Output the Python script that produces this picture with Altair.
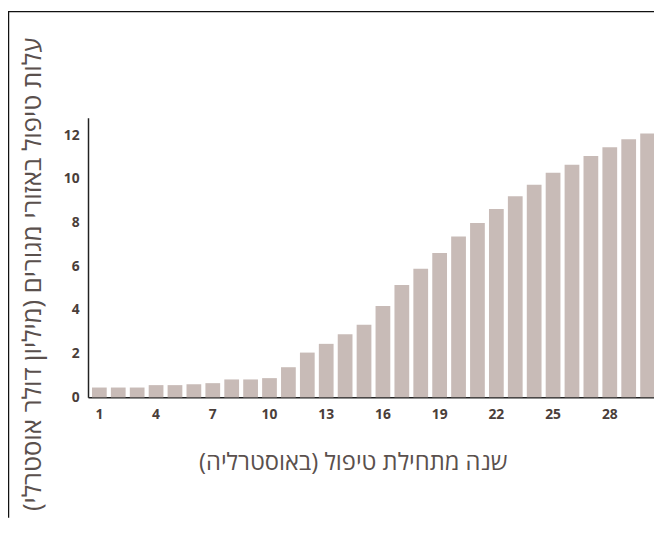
import altair as alt
import pandas as pd

years = list(range(1, 31))
costs = [0.45, 0.45, 0.45, 0.56, 0.56, 0.60, 0.65, 0.82, 0.82, 0.88,
         1.38, 2.05, 2.45, 2.89, 3.33, 4.18, 5.14, 5.89, 6.61, 7.36,
         7.98, 8.62, 9.21, 9.74, 10.29, 10.65, 11.05, 11.45, 11.82, 12.08]
x_tick_values = [1, 4, 7, 10, 13, 16, 19, 22, 25, 28]
y_tick_values = [0, 2, 4, 6, 8, 10, 12]
x_title = "שנה מתחילת טיפול (באוסטרליה)" + "\u200f"
y_title = "עלות טיפול באזורי מגורים (מיליון דולר אוסטרלי)" + "\u200f"

df = pd.DataFrame({"year": years, "cost": costs})

FONT = "Open Sans"
LABEL_COLOR = "#4a3e3a"
TITLE_COLOR = "#5a504d"
AXIS_COLOR = "#222222"

bars = alt.Chart(df).mark_bar(color="#c8bbb7").encode(
    x=alt.X(
        "year:O",
        scale=alt.Scale(range=[0, 578], paddingInner=0.22, paddingOuter=0.21),
        axis=alt.Axis(
            values=x_tick_values, labelAngle=0, ticks=False, grid=False,
            labelFont=FONT, labelFontSize=14, labelFontWeight="bold",
            labelColor=LABEL_COLOR, labelPadding=10,
            domainColor=AXIS_COLOR, domainWidth=1.5,
            title=x_title, titleFont=FONT, titleFontSize=24,
            titleFontWeight="normal", titleColor=TITLE_COLOR,
            titleX=268, titleY=66, titleBaseline="middle", titleAlign="center",
        ),
    ),
    y=alt.Y(
        "cost:Q",
        scale=alt.Scale(domain=[0, 12.8], nice=False),
        axis=alt.Axis(
            values=y_tick_values, ticks=False, grid=False,
            labelFont=FONT, labelFontSize=14, labelFontWeight="bold",
            labelColor=LABEL_COLOR, labelPadding=9,
            domainColor=AXIS_COLOR, domainWidth=1.5,
            title=y_title, titleFont=FONT, titleFontSize=26,
            titleFontWeight="normal", titleColor=TITLE_COLOR,
            titleX=-56, titleY=158, titleBaseline="middle", titleAlign="center",
            titleAngle=270,
        ),
    ),
)

frame_df = pd.DataFrame({"k": [0]})
frame_top = alt.Chart(frame_df).mark_rule(color="#111111", strokeWidth=1.5).encode(
    x=alt.value(-81), x2=alt.value(573), y=alt.value(-107.5)
)
frame_left = alt.Chart(frame_df).mark_rule(color="#111111", strokeWidth=1.5).encode(
    x=alt.value(-80.5), y=alt.value(-108), y2=alt.value(405)
)

chart = alt.layer(bars, frame_top, frame_left).properties(
    width=573,
    height=283,
    autosize=alt.AutoSizeParams(type="none"),
    padding={"left": 81, "top": 108, "right": 0, "bottom": 122},
).configure(background="white").configure_view(stroke=None)

chart.save("out.html", embed_options={"renderer": "svg", "actions": False})
